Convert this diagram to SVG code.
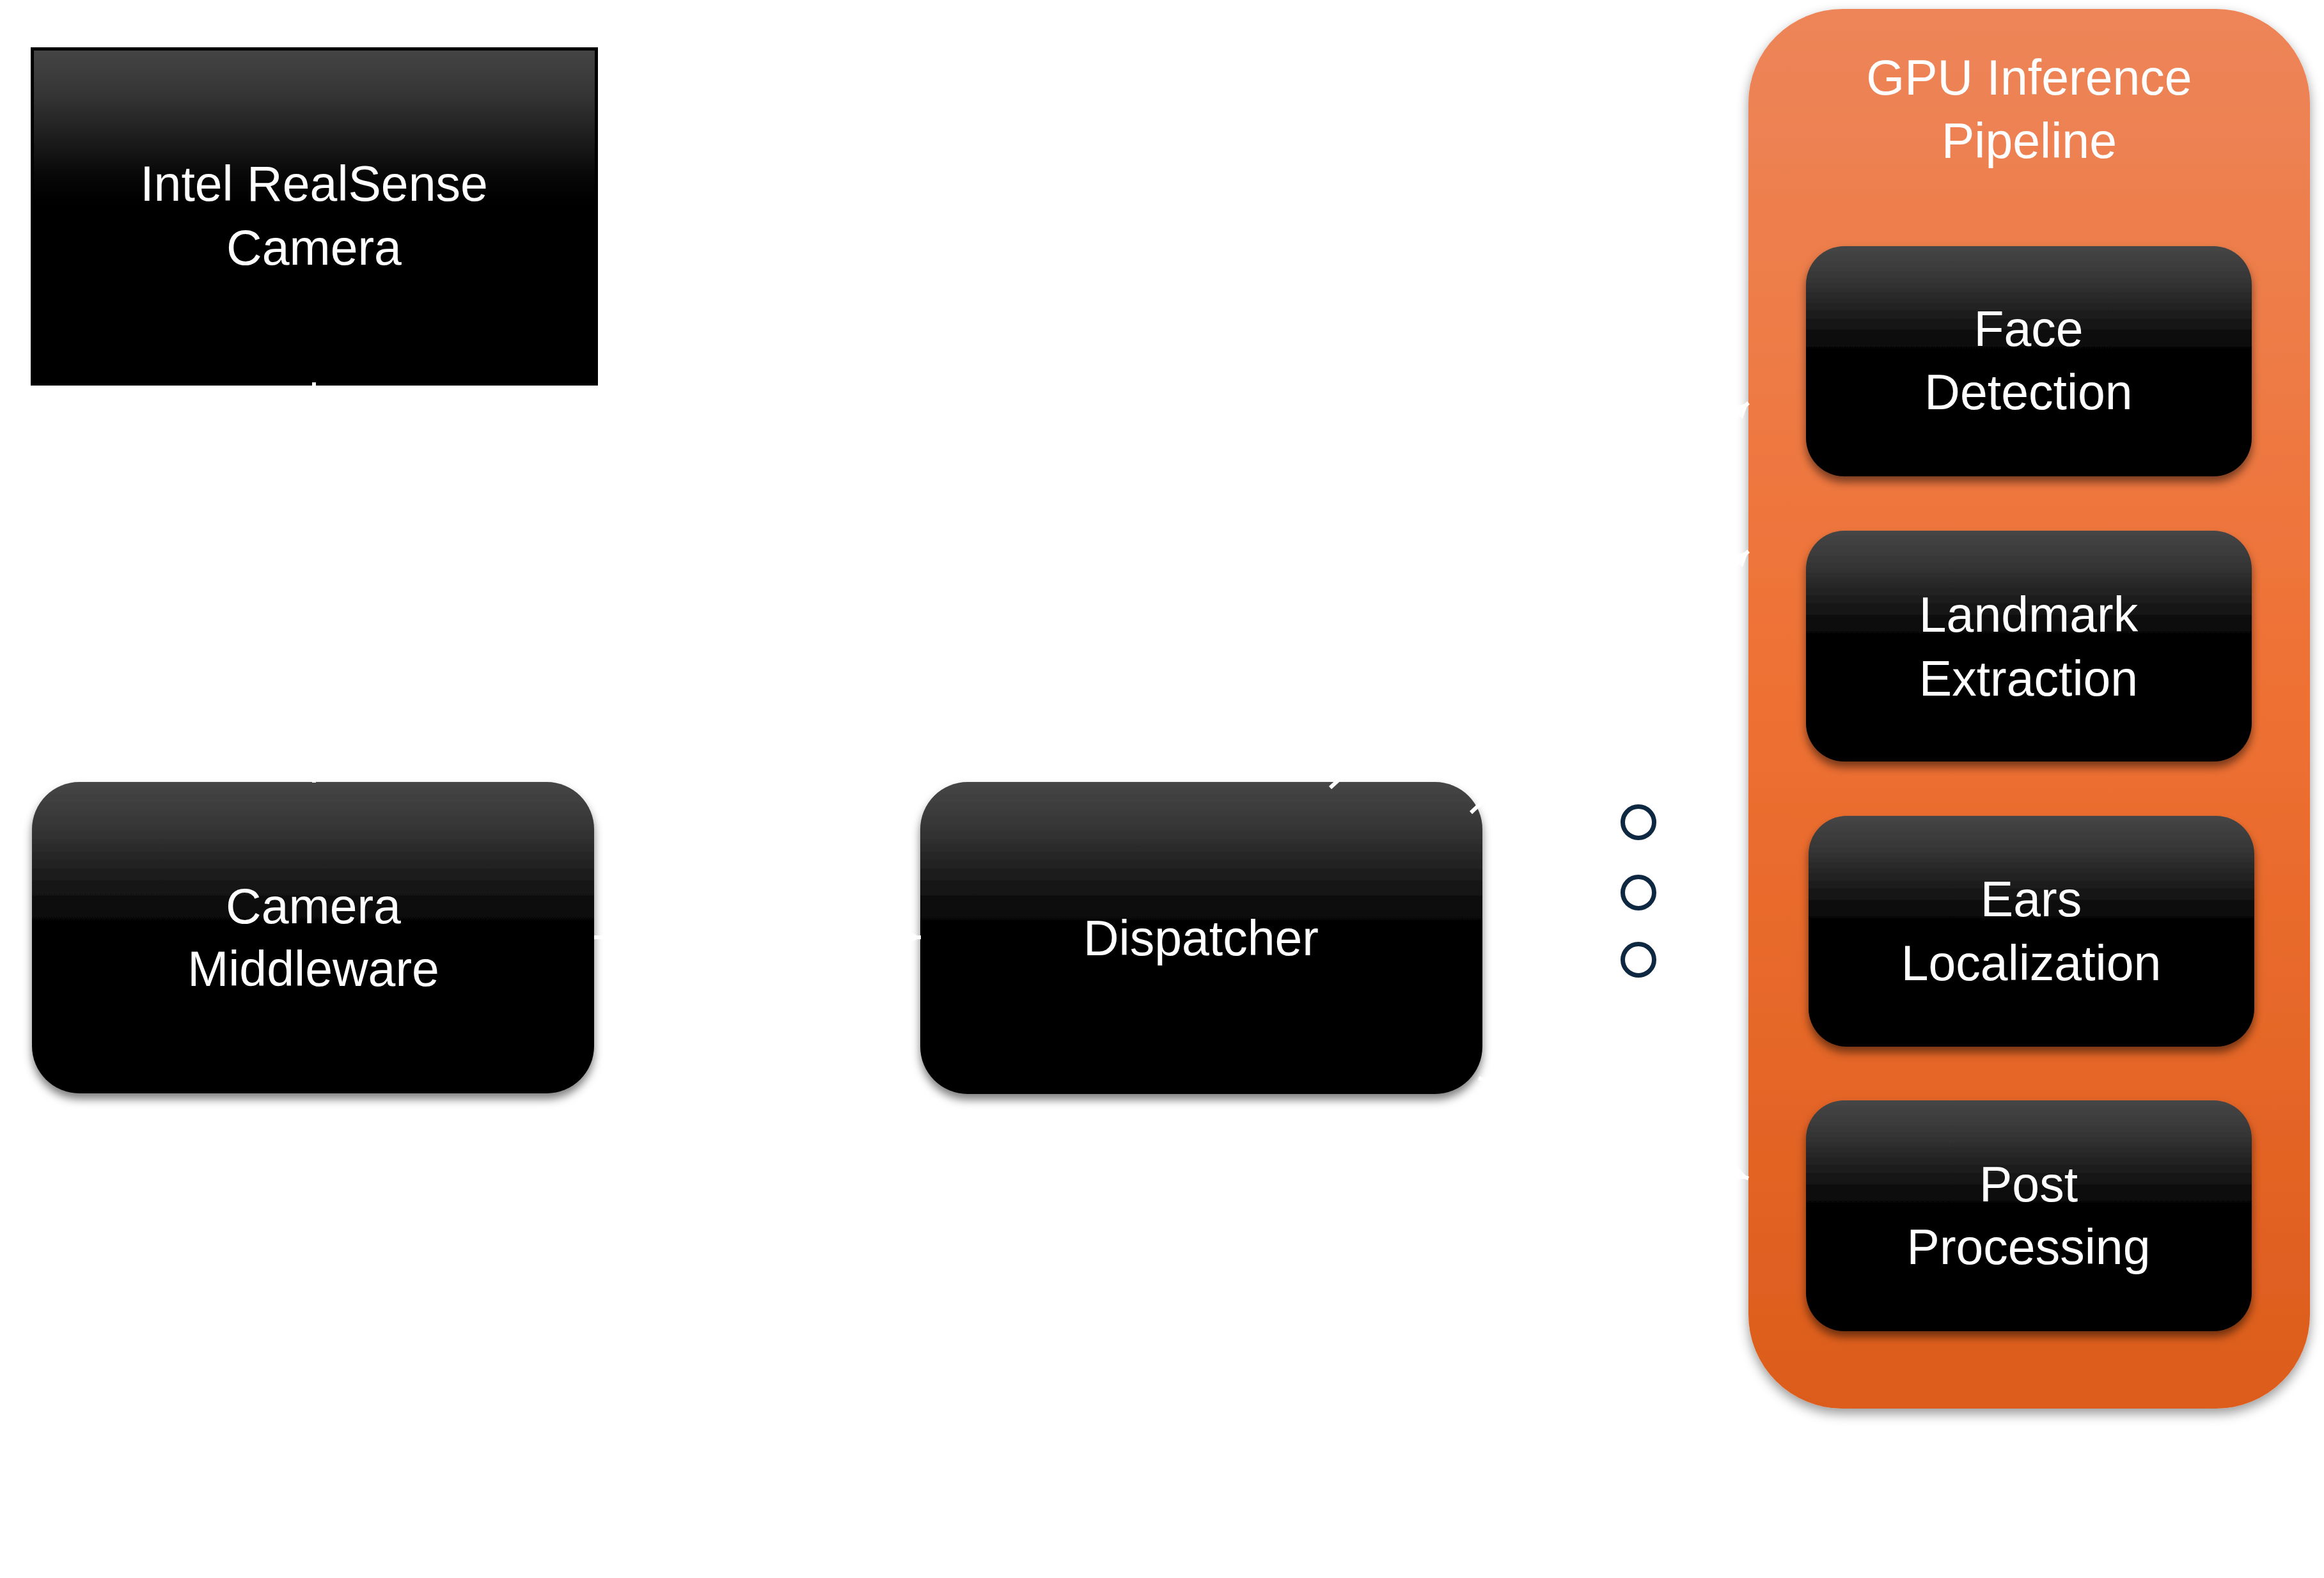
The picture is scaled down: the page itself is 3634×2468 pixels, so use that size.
<svg xmlns="http://www.w3.org/2000/svg" width="3634" height="2468" viewBox="0 0 3634 2468">
<style>
.lbl{font-family:"Liberation Sans",Arial,sans-serif;font-size:77px;fill:#ffffff;text-anchor:middle}
.box{fill:url(#blk);filter:url(#sh)}
.conn{stroke:#ffffff;stroke-width:6;fill:none;marker-end:url(#ah)}
.dot{fill:none;stroke:#0E2841;stroke-width:7}
</style>
<defs>
<linearGradient id="blk" x1="0" y1="0" x2="0" y2="1">
<stop offset="0" stop-color="#464646"/>
<stop offset="0.15" stop-color="#353535"/>
<stop offset="0.3" stop-color="#1c1c1c"/>
<stop offset="0.42" stop-color="#080808"/>
<stop offset="0.52" stop-color="#000000"/>
<stop offset="1" stop-color="#000000"/>
</linearGradient>
<linearGradient id="blk2" x1="0" y1="0" x2="0" y2="1">
<stop offset="0" stop-color="#454545"/>
<stop offset="0.14" stop-color="#343434"/>
<stop offset="0.28" stop-color="#1a1a1a"/>
<stop offset="0.38" stop-color="#070707"/>
<stop offset="0.46" stop-color="#000000"/>
<stop offset="1" stop-color="#000000"/>
</linearGradient>
<linearGradient id="org" x1="0" y1="0" x2="0" y2="1">
<stop offset="0" stop-color="#ED8559"/>
<stop offset="0.5" stop-color="#EE7032"/>
<stop offset="1" stop-color="#DC5C1C"/>
</linearGradient>
<filter id="sh" x="-10%" y="-10%" width="120%" height="130%">
<feDropShadow dx="0" dy="9" stdDeviation="7" flood-color="#000" flood-opacity="0.5"/>
</filter>
<filter id="sh2" x="-10%" y="-10%" width="120%" height="120%">
<feDropShadow dx="0" dy="8" stdDeviation="9" flood-color="#000" flood-opacity="0.4"/>
</filter>
<marker id="ah" viewBox="0 0 10 10" refX="10" refY="5" markerWidth="4" markerHeight="4" orient="auto" markerUnits="strokeWidth">
<path d="M0,0 L10,5 L0,10 z" fill="#ffffff"/>
</marker>
</defs>
<rect width="3634" height="2468" fill="#ffffff"/>

<g id="gpu-pipeline">
<rect x="2734" y="14" width="878" height="2189" rx="147" ry="147" fill="url(#org)" filter="url(#sh2)"/>
<text class="lbl" x="3173" y="148">GPU Inference</text>
<text class="lbl" x="3173" y="247">Pipeline</text>
</g>

<g id="camera">
<rect x="50.5" y="76.5" width="882" height="524" fill="url(#blk2)" stroke="#000000" stroke-width="5"/>
<text class="lbl" x="491" y="314">Intel RealSense</text>
<text class="lbl" x="491" y="414">Camera</text>
</g>

<g id="middleware">
<rect class="box" x="50" y="1223" width="879" height="487" rx="74" ry="74"/>
<text class="lbl" x="490" y="1444">Camera</text>
<text class="lbl" x="490" y="1542">Middleware</text>
</g>

<g id="dispatcher">
<rect class="box" x="1439" y="1223" width="879" height="488" rx="74" ry="74"/>
<text class="lbl" x="1878" y="1494">Dispatcher</text>
</g>

<g id="face-detection">
<rect class="box" x="2824" y="385" width="697" height="360" rx="60" ry="60"/>
<text class="lbl" x="3172" y="541">Face</text>
<text class="lbl" x="3172" y="640">Detection</text>
</g>

<g id="landmark-extraction">
<rect class="box" x="2824" y="830" width="697" height="361" rx="60" ry="60"/>
<text class="lbl" x="3172" y="988">Landmark</text>
<text class="lbl" x="3172" y="1088">Extraction</text>
</g>

<g id="ears-localization">
<rect class="box" x="2828" y="1276" width="697" height="361" rx="60" ry="60"/>
<text class="lbl" x="3176" y="1433">Ears</text>
<text class="lbl" x="3176" y="1533">Localization</text>
</g>

<g id="post-processing">
<rect class="box" x="2824" y="1721" width="697" height="361" rx="60" ry="60"/>
<text class="lbl" x="3172" y="1879">Post</text>
<text class="lbl" x="3172" y="1977">Processing</text>
</g>

<g id="ellipsis">
<circle class="dot" cx="2562" cy="1286" r="24.5"/>
<circle class="dot" cx="2562" cy="1396" r="24.5"/>
<circle class="dot" cx="2562" cy="1501" r="24.5"/>
</g>

<g id="connectors">
<line class="conn" x1="491" y1="598" x2="491" y2="1224"/>
<line class="conn" x1="929" y1="1466" x2="1440" y2="1466"/>
<line class="conn" x1="2080" y1="1232" x2="2734" y2="630"/>
<line class="conn" x1="2300" y1="1271" x2="2734" y2="862"/>
<line class="conn" x1="2312" y1="1686" x2="2734" y2="1843"/>
</g>
</svg>
